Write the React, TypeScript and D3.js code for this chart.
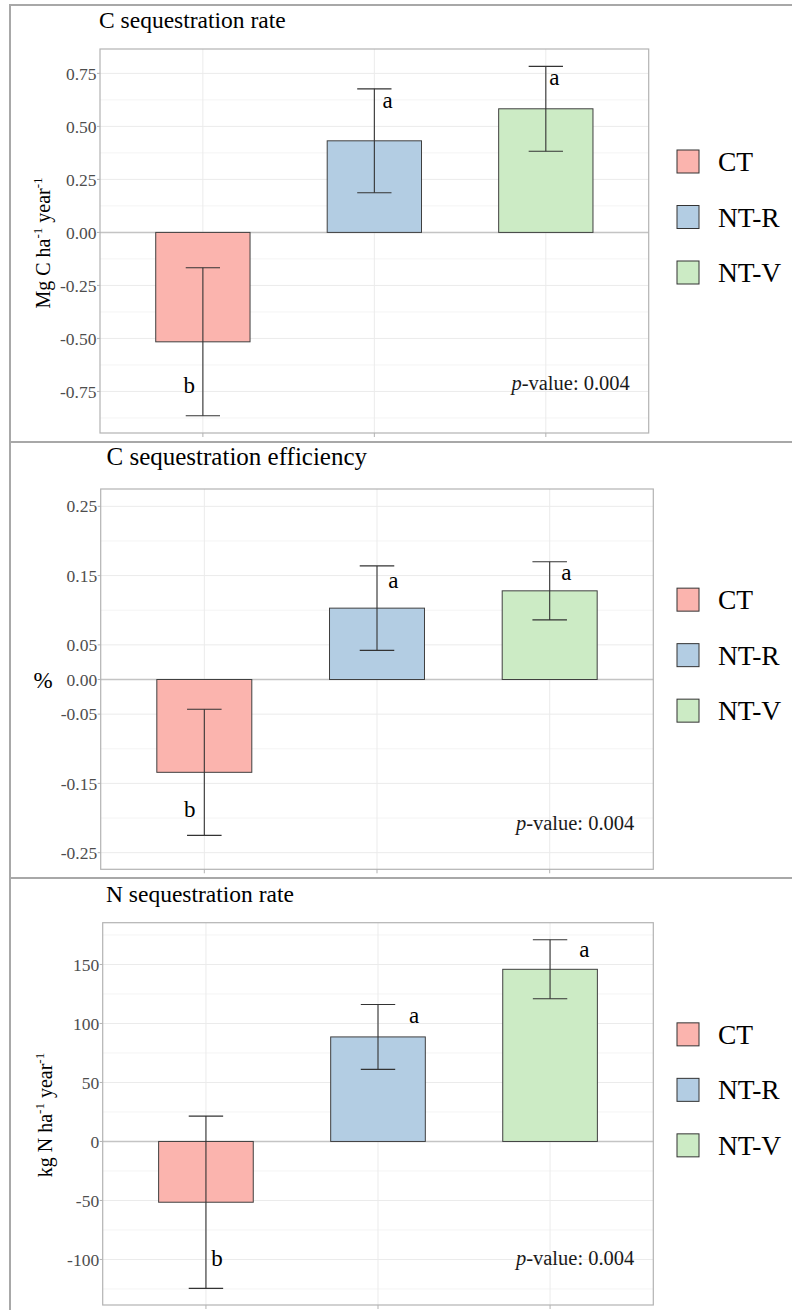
import React from 'react';
import * as d3 from 'd3';

const categories = ['CT', 'NT-R', 'NT-V'];
const fillColors = ['#FBB4AE', '#B3CDE3', '#CCEBC5'];

// Panel 1: C sequestration rate (Mg C ha-1 year-1)
const cRateMean = [-0.516, 0.432, 0.583];
const cRateErr = [0.349, 0.245, 0.2];
const cRateLetters = ['b', 'a', 'a'];
const cRateLetterY = [-0.759, 0.589, 0.695];
const cRateLetterDx = [-0.08, 0.078, 0.05];
const cRateTicks = [0.75, 0.5, 0.25, 0, -0.25, -0.5, -0.75];
const cRateTickLabels = ['0.75', '0.50', '0.25', '0.00', '-0.25', '-0.50', '-0.75'];
const cRateGrid = [-0.875, -0.75, -0.625, -0.5, -0.375, -0.25, -0.125, 0, 0.125, 0.25, 0.375, 0.5, 0.625, 0.75, 0.875];

// Panel 2: C sequestration efficiency (%)
const cEffMean = [-0.134, 0.103, 0.128];
const cEffErr = [0.091, 0.061, 0.042];
const cEffLetters = ['b', 'a', 'a'];
const cEffLetterY = [-0.198, 0.1325, 0.1436];
const cEffLetterDx = [-0.085, 0.095, 0.097];
const cEffTicks = [0.25, 0.15, 0.05, 0, -0.05, -0.15, -0.25];
const cEffTickLabels = ['0.25', '0.15', '0.05', '0.00', '-0.05', '-0.15', '-0.25'];
const cEffGrid = [-0.25, -0.2, -0.15, -0.1, -0.05, 0, 0.05, 0.1, 0.15, 0.2, 0.25];

// Panel 3: N sequestration rate (kg N ha-1 year-1)
const nRateMean = [-51.5, 88.6, 145.9];
const nRateErr = [73, 27.5, 25];
const nRateLetters = ['b', 'a', 'a'];
const nRateLetterY = [-105.3, 100.7, 156.6];
const nRateLetterDx = [0.064, 0.21, 0.2];
const nRateTicks = [150, 100, 50, 0, -50, -100];
const nRateTickLabels = ['150', '100', '50', '0', '-50', '-100'];
const nRateGrid = [-125, -100, -75, -50, -25, 0, 25, 50, 75, 100, 125, 150, 175];

const pValueText = '0.004';

const FONT = "'Liberation Serif', Tinos, 'Times New Roman', 'DejaVu Serif', serif";
const ff = { fontFamily: FONT };

type PanelProps = {
  title: string;
  titleX: number;
  titleY: number;
  titleSize: number;
  yTitle: React.ReactNode;
  left: number;
  right: number;
  top: number;
  bottom: number;
  domain: [number, number];
  mean: number[];
  err: number[];
  letters: string[];
  letterY: number[];
  letterDx: number[];
  ticks: number[];
  tickLabels: string[];
  grid: number[];
  pY: number;
};

function Panel(p: PanelProps) {
  const x = d3.scalePoint<string>().domain(categories).range([p.left, p.right]).padding(0.6);
  const step = x.step();
  const y = d3.scaleLinear().domain(p.domain).range([p.bottom, p.top]);
  const bw = step * 0.55;
  const cap = step * 0.1;
  const majorSet = new Set(p.ticks.map((t) => t.toFixed(4)));
  const legendMid = (p.top + p.bottom) / 2 - 24;
  return (
    <g>
      <rect x={p.left} y={p.top} width={p.right - p.left} height={p.bottom - p.top} fill="#ffffff" />
      {p.grid.filter((g) => y(g) > p.top + 0.5 && y(g) < p.bottom - 0.5).map((g, i) => (
        <line key={'g' + i} x1={p.left} x2={p.right} y1={y(g)} y2={y(g)}
          stroke={majorSet.has(g.toFixed(4)) ? '#ebebeb' : '#f4f4f4'} strokeWidth={1} />
      ))}
      {categories.map((c) => (
        <line key={'v' + c} x1={x(c)} x2={x(c)} y1={p.top} y2={p.bottom} stroke="#ebebeb" strokeWidth={1} />
      ))}
      <line x1={p.left} x2={p.right} y1={y(0)} y2={y(0)} stroke="#c4c4c4" strokeWidth={1.5} />
      {categories.map((c, i) => {
        const v = p.mean[i];
        const y0 = y(Math.max(0, v));
        const y1 = y(Math.min(0, v));
        return (
          <rect key={'b' + c} x={(x(c) as number) - bw / 2} y={y0} width={bw} height={y1 - y0}
            fill={fillColors[i]} stroke="#404040" strokeWidth={1} />
        );
      })}
      {categories.map((c, i) => {
        const cx = x(c) as number;
        const hi = y(p.mean[i] + p.err[i]);
        const lo = y(p.mean[i] - p.err[i]);
        return (
          <g key={'e' + c} stroke="#333333" strokeWidth={1.1}>
            <line x1={cx} x2={cx} y1={hi} y2={lo} />
            <line x1={cx - cap} x2={cx + cap} y1={hi} y2={hi} />
            <line x1={cx - cap} x2={cx + cap} y1={lo} y2={lo} />
          </g>
        );
      })}
      {categories.map((c, i) => (
        <text key={'l' + c} x={(x(c) as number) + p.letterDx[i] * step} y={y(p.letterY[i])}
          textAnchor="middle" style={ff} fontSize={23} fill="#000">{p.letters[i]}</text>
      ))}
      <text x={(x('NT-V') as number) + 0.49 * step} y={y(p.pY)} textAnchor="end" style={ff}
        fontSize={20.5} fill="#1a1a1a">
        <tspan fontStyle="italic">p</tspan>-value: {pValueText}
      </text>
      <rect x={p.left} y={p.top} width={p.right - p.left} height={p.bottom - p.top} fill="none"
        stroke="#b3b3b3" strokeWidth={1.2} />
      {p.ticks.map((t, i) => (
        <g key={'t' + i}>
          <line x1={p.left - 3} x2={p.left} y1={y(t)} y2={y(t)} stroke="#b3b3b3" strokeWidth={1} />
          <text x={p.left - 3.5} y={y(t)} dy="0.35em" textAnchor="end" style={ff} fontSize={17.5}
            fill="#4d4d4d">{p.tickLabels[i]}</text>
        </g>
      ))}
      {categories.map((c) => (
        <line key={'xt' + c} x1={x(c)} x2={x(c)} y1={p.bottom} y2={p.bottom + 4} stroke="#b3b3b3" strokeWidth={1} />
      ))}
      <text x={p.titleX} y={p.titleY} style={ff} fontSize={p.titleSize} fill="#000">{p.title}</text>
      {p.yTitle}
      {categories.map((c, i) => {
        const cy = legendMid + (i - 1) * 55.5;
        return (
          <g key={'lg' + c}>
            <rect x={677} y={cy - 11.5} width={22} height={23} fill={fillColors[i]} stroke="#333333" strokeWidth={1} />
            <text x={718} y={cy} dy="0.35em" style={ff} fontSize={27.5} fill="#000">{c}</text>
          </g>
        );
      })}
    </g>
  );
}

function RotTitle({ cx, cy, main1, main2 }: { cx: number; cy: number; main1: string; main2: string }) {
  return (
    <text transform={`translate(${cx},${cy}) rotate(-90)`} textAnchor="middle" style={ff} fontSize={20} fill="#000">
      {main1}
      <tspan fontSize={13} dy={-8}>-1</tspan>
      <tspan dy={8}>{' ' + main2}</tspan>
      <tspan fontSize={13} dy={-8}>-1</tspan>
    </text>
  );
}

export default function App() {
  return (
    <svg width={792} height={1310} style={{ position: 'absolute', left: 0, top: 0, display: 'block', background: '#fff' }}>
      <rect x={0} y={0} width={792} height={1310} fill="#ffffff" />
      <rect x={10} y={5} width={800} height={437} fill="none" stroke="#a8a8a8" strokeWidth={2} />
      <rect x={10} y={442} width={800} height={436} fill="none" stroke="#a8a8a8" strokeWidth={2} />
      <rect x={10} y={878} width={800} height={450} fill="none" stroke="#a8a8a8" strokeWidth={2} />

      <Panel
        title="C sequestration rate" titleX={99} titleY={28} titleSize={23.5}
        yTitle={<RotTitle cx={50} cy={243} main1="Mg C ha" main2="year" />}
        left={100} right={648.7} top={49} bottom={433} domain={[-0.946, 0.865]}
        mean={cRateMean} err={cRateErr} letters={cRateLetters} letterY={cRateLetterY} letterDx={cRateLetterDx}
        ticks={cRateTicks} tickLabels={cRateTickLabels} grid={cRateGrid} pY={-0.745}
      />
      <Panel
        title="C sequestration efficiency" titleX={106.5} titleY={465} titleSize={25}
        yTitle={<text x={43} y={680} dy="0.35em" textAnchor="middle" style={ff} fontSize={23} fill="#000">%</text>}
        left={100.7} right={653.3} top={489} bottom={869.3} domain={[-0.274, 0.275]}
        mean={cEffMean} err={cEffErr} letters={cEffLetters} letterY={cEffLetterY} letterDx={cEffLetterDx}
        ticks={cEffTicks} tickLabels={cEffTickLabels} grid={cEffGrid} pY={-0.217}
      />
      <Panel
        title="N sequestration rate" titleX={106} titleY={902} titleSize={23.5}
        yTitle={<RotTitle cx={52} cy={1115} main1="kg N ha" main2="year" />}
        left={102.7} right={653.3} top={922.7} bottom={1305} domain={[-138.6, 185.4]}
        mean={nRateMean} err={nRateErr} letters={nRateLetters} letterY={nRateLetterY} letterDx={nRateLetterDx}
        ticks={nRateTicks} tickLabels={nRateTickLabels} grid={nRateGrid} pY={-104.7}
      />
    </svg>
  );
}
